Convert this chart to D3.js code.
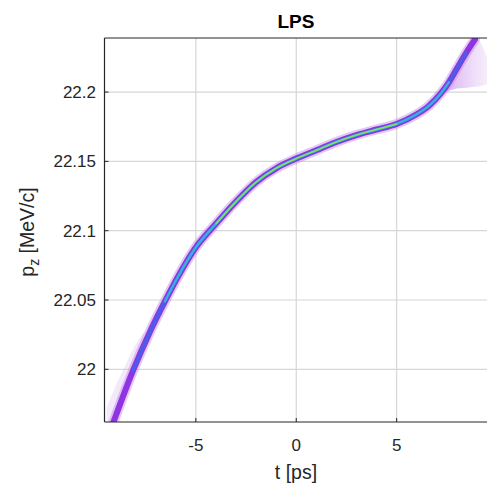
<!DOCTYPE html>
<html>
<head>
<meta charset="utf-8">
<script src="https://cdn.jsdelivr.net/npm/d3@7"></script>
<style>
  html, body { margin: 0; padding: 0; background: #fff; }
  svg { display: block; font-family: "Liberation Sans", Arial, Helvetica, sans-serif; }
</style>
</head>
<body>
<svg id="chart" width="487" height="487"></svg>
<script>
// ---- data ----
const title = "LPS";
const xLabel = "t [ps]";
const xTicks = [-5, 0, 5];
const yTicks = [22, 22.05, 22.1, 22.15, 22.2];
const yTickLabels = ["22", "22.05", "22.1", "22.15", "22.2"];

// beam centroid along the longitudinal phase space
const tCenter = [-9.1, -8.13, -7.29, -6.54, -5.96, -5.05, -4.0, -3.0, -2.0, -1.0, 0.0, 1.0, 2.0, 3.0, 4.0, 5.0, 6.0, 6.6, 7.2, 7.6, 8.0, 8.45, 8.9];
const pCenter = [21.962, 21.999, 22.027, 22.049, 22.065, 22.087, 22.105, 22.121, 22.135, 22.145, 22.152, 22.158, 22.164, 22.169, 22.173, 22.177, 22.184, 22.190, 22.199, 22.207, 22.217, 22.228, 22.238];

// density bands (t-range where each colour level appears)
const bandNames = ["halo", "purple", "blue", "cyan", "green"];
const bandFrom  = [-9.6, -9.6, -9.0, -6.8, -4.2];
const bandTo    = [ 9.0,  9.0,  8.6,  7.6,  5.6];

// diffuse tail at the head of the bunch
const tailT     = [7.4, 8.0, 8.5, 8.9, 9.15, 9.35, 9.6];
const tailUpper = [22.203, 22.218, 22.230, 22.238, 22.238, 22.230, 22.222];
const tailLower = [22.200, 22.203, 22.203, 22.204, 22.204, 22.205, 22.206];

// faint spread at the tail of the bunch (lower left)
const lowT     = [-9.45, -9.1, -8.6, -8.1, -7.6];
const lowUpper = [21.972, 21.985, 22.0, 22.016, 22.027];
const lowLower = [21.962, 21.962, 21.981, 22.0, 22.018];

// ---- layout ----
const svg = d3.select("#chart");
const L = 104.5, T = 38, B = 422, R = 487;
const x = d3.scaleLinear().domain([-9.55, 9.5]).range([L, R]);
const y = d3.scaleLinear().domain([21.962, 22.239]).range([B, T]);

svg.append("rect").attr("width", 487).attr("height", 487).attr("fill", "#fff");

const defs = svg.append("defs");
defs.append("clipPath").attr("id", "clip")
  .append("rect").attr("x", L).attr("y", T).attr("width", R - L).attr("height", B - T);

// grid
const grid = svg.append("g");
xTicks.forEach(v => grid.append("line")
  .attr("x1", x(v)).attr("x2", x(v)).attr("y1", T).attr("y2", B)
  .attr("stroke", "#d6d6d6").attr("stroke-width", 1.2));
yTicks.forEach(v => grid.append("line")
  .attr("x1", L).attr("x2", R).attr("y1", y(v)).attr("y2", y(v))
  .attr("stroke", "#d6d6d6").attr("stroke-width", 1.2));

const plot = svg.append("g").attr("clip-path", "url(#clip)");

// diffuse tail areas
const tailData = tailT.map((t, i) => ({t, hi: tailUpper[i], lo: tailLower[i]}));
const tailGrad = defs.append("linearGradient").attr("id", "tailGrad")
  .attr("x1", "0").attr("x2", "1").attr("y1", "0").attr("y2", "0");
tailGrad.append("stop").attr("offset", "0%").attr("stop-color", "#b060e0").attr("stop-opacity", 0.5);
tailGrad.append("stop").attr("offset", "100%").attr("stop-color", "#d8a8f0").attr("stop-opacity", 0.2);
plot.append("path")
  .datum(tailData)
  .attr("d", d3.area().x(d => x(d.t)).y0(d => y(d.lo)).y1(d => y(d.hi)).curve(d3.curveBasis))
  .attr("fill", "url(#tailGrad)");

const lowData = lowT.map((t, i) => ({t, hi: lowUpper[i], lo: lowLower[i]}));
plot.append("path")
  .datum(lowData)
  .attr("d", d3.area().x(d => x(d.t)).y0(d => y(d.lo)).y1(d => y(d.hi)).curve(d3.curveBasis))
  .attr("fill", "#dcb6f0").attr("opacity", 0.3);

// centroid bands
const centre = tCenter.map((t, i) => ({t, p: pCenter[i]}));
const line = d3.line().x(d => x(d.t)).y(d => y(d.p)).curve(d3.curveMonotoneX);
const bandStyle = {
  halo:   {color: "#c890ea", width: 10, op: 0.5},
  purple: {color: "#8a2ce0", width: 6,  op: 0.95},
  blue:   {color: "#4b5ee6", width: 3.6, op: 0.95},
  cyan:   {color: "#38b4d8", width: 2.4, op: 0.95},
  green:  {color: "#86e062", width: 1.6, op: 1}
};
bandNames.forEach((name, i) => {
  const seg = centre.filter(d => d.t >= bandFrom[i] && d.t <= bandTo[i]);
  const s = bandStyle[name];
  plot.append("path").datum(seg)
    .attr("d", line)
    .attr("fill", "none")
    .attr("stroke", s.color)
    .attr("stroke-width", s.width)
    .attr("stroke-linecap", "round")
    .attr("stroke-linejoin", "round")
    .attr("opacity", s.op);
});

// axes box (left, top, bottom — right edge is cropped)
const axisCol = "#262626";
svg.append("line").attr("x1", L).attr("x2", L).attr("y1", T).attr("y2", B).attr("stroke", axisCol).attr("stroke-width", 1.2);
svg.append("line").attr("x1", L).attr("x2", R).attr("y1", B).attr("y2", B).attr("stroke", axisCol).attr("stroke-width", 1.2);
svg.append("line").attr("x1", L).attr("x2", R).attr("y1", T).attr("y2", T).attr("stroke", axisCol).attr("stroke-width", 1.2);

// ticks
xTicks.forEach(v => svg.append("line")
  .attr("x1", x(v)).attr("x2", x(v)).attr("y1", B).attr("y2", B - 4)
  .attr("stroke", axisCol));
yTicks.forEach(v => svg.append("line")
  .attr("x1", L).attr("x2", L + 4).attr("y1", y(v)).attr("y2", y(v))
  .attr("stroke", axisCol));

// tick labels
xTicks.forEach(v => svg.append("text")
  .attr("x", x(v)).attr("y", 451)
  .attr("text-anchor", "middle")
  .attr("font-size", 17).attr("fill", axisCol)
  .text(v === 0 ? "0" : (v < 0 ? "-" + Math.abs(v) : String(v))));
yTicks.forEach((v, i) => svg.append("text")
  .attr("x", 96).attr("y", y(v) + 6)
  .attr("text-anchor", "end")
  .attr("font-size", 17).attr("fill", axisCol)
  .text(yTickLabels[i]));

// title and labels
svg.append("text").attr("x", 296).attr("y", 28)
  .attr("text-anchor", "middle").attr("font-size", 19).attr("font-weight", "bold")
  .attr("fill", "#000").text(title);

svg.append("text").attr("x", 296).attr("y", 479)
  .attr("text-anchor", "middle").attr("font-size", 19.5).attr("fill", axisCol)
  .text(xLabel);

const yl = svg.append("text")
  .attr("transform", "translate(34,232) rotate(-90)")
  .attr("text-anchor", "middle").attr("font-size", 19.5).attr("fill", axisCol);
yl.append("tspan").text("p");
yl.append("tspan").attr("font-size", 14).attr("dy", 5).text("z");
yl.append("tspan").attr("dy", -5).text(" [MeV/c]");
</script>
</body>
</html>
